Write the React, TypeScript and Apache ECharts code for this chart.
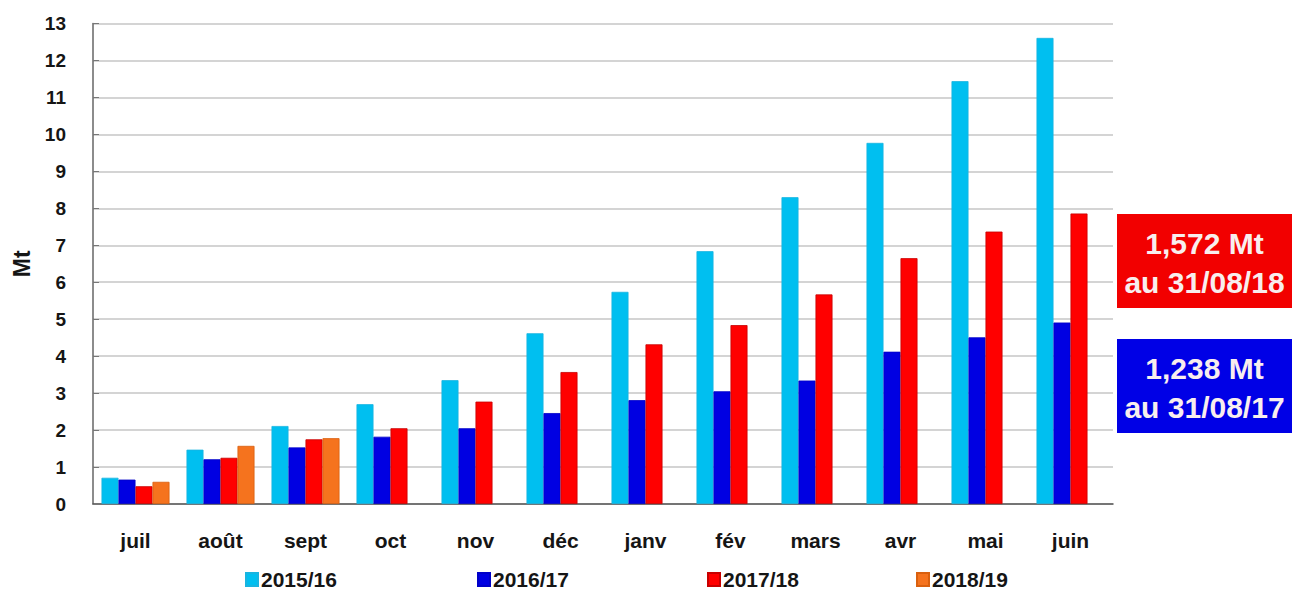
import React, { useEffect, useRef } from "react";
import * as echarts from "echarts";

const months = ["juil", "août", "sept", "oct", "nov", "déc", "janv", "fév", "mars", "avr", "mai", "juin"];
const s1516 = [0.71, 1.47, 2.11, 2.7, 3.35, 4.62, 5.74, 6.84, 8.3, 9.77, 11.44, 12.61];
const s1617 = [0.66, 1.21, 1.53, 1.82, 2.05, 2.46, 2.81, 3.05, 3.34, 4.12, 4.51, 4.91];
const s1718 = [0.48, 1.25, 1.75, 2.05, 2.77, 3.57, 4.32, 4.84, 5.67, 6.65, 7.37, 7.86];
const s1819 = [0.6, 1.572, 1.78, null, null, null, null, null, null, null, null, null];
const seriesNames = ["2015/16", "2016/17", "2017/18", "2018/19"];
const colors = ["#00bff0", "#0000e2", "#ff0000", "#f5731e"];
const borders = ["#19b4e0", "#0000c8", "#c80000", "#d9600f"];
const legendLefts = [240, 472, 702, 911];
const boxTexts = [
  { line1: "1,572 Mt", line2: "au 31/08/18", color: "#f20000" },
  { line1: "1,238 Mt", line2: "au 31/08/17", color: "#0000e6" },
];

const FONT = "'Liberation Sans', Arial, Helvetica, sans-serif";

export default function App() {
  const ref = useRef<HTMLDivElement>(null);
  useEffect(() => {
    if (!ref.current) return;
    const chart = echarts.init(ref.current, undefined, { renderer: "svg" });
    const data = [s1516, s1617, s1718, s1819];
    const boxTops = [214, 339];
    chart.setOption({
      animation: false,
      backgroundColor: "#ffffff",
      textStyle: { fontFamily: FONT },
      grid: { left: 93, right: 179, top: 23.5, bottom: 89, containLabel: false },
      legend: seriesNames.map((n, i) => ({
        data: [n],
        left: legendLefts[i],
        top: 564,
        itemWidth: 12,
        itemHeight: 13,
        itemGap: 4,
        icon: "rect",
        selectedMode: false,
        textStyle: { fontSize: 21, fontWeight: "bold", color: "#151515", fontFamily: FONT, padding: [0, 0, 0, -2] },
      })),
      xAxis: {
        type: "category",
        data: months,
        axisLine: { lineStyle: { color: "#555", width: 1.5 } },
        axisTick: { show: false },
        axisLabel: { fontSize: 21, fontWeight: "bold", color: "#151515", margin: 26, fontFamily: FONT },
      },
      yAxis: {
        type: "value",
        min: 0,
        max: 13,
        interval: 1,
        name: "Mt",
        nameLocation: "middle",
        nameGap: 52,
        nameRotate: 90,
        nameTextStyle: { fontSize: 23, fontWeight: "bold", color: "#151515", fontFamily: FONT },
        axisLine: { show: true, lineStyle: { color: "#666", width: 1.5 } },
        axisTick: { show: true, inside: true, length: 6, lineStyle: { color: "#777" } },
        axisLabel: { fontSize: 19, fontWeight: "bold", color: "#151515", margin: 27, fontFamily: FONT },
        splitLine: { lineStyle: { color: "#d4d4d4", width: 2 } },
      },
      series: seriesNames.map((n, i) => ({
        name: n,
        type: "bar",
        data: data[i],
        barWidth: 17,
        barGap: "0%",
        itemStyle: { color: colors[i], borderColor: borders[i], borderWidth: 0.8 },
      })),
      graphic: boxTexts.map((b, i) => ({
        type: "group",
        left: 1117,
        top: boxTops[i],
        children: [
          { type: "rect", shape: { x: 0, y: 0, width: 175, height: 94 }, style: { fill: b.color } },
          {
            type: "text",
            x: 87.5,
            y: 29,
            style: { text: b.line1, fill: "#f8eeee", fontSize: 30, fontWeight: "bold", fontFamily: FONT, align: "center", verticalAlign: "middle" },
          },
          {
            type: "text",
            x: 87.5,
            y: 68,
            style: { text: b.line2, fill: "#f8eeee", fontSize: 30, fontWeight: "bold", fontFamily: FONT, align: "center", verticalAlign: "middle" },
          },
        ],
      })),
    });
    return () => chart.dispose();
  }, []);
  return <div ref={ref} style={{ position: "fixed", left: 0, top: 0, width: 1292, height: 593 }} />;
}
